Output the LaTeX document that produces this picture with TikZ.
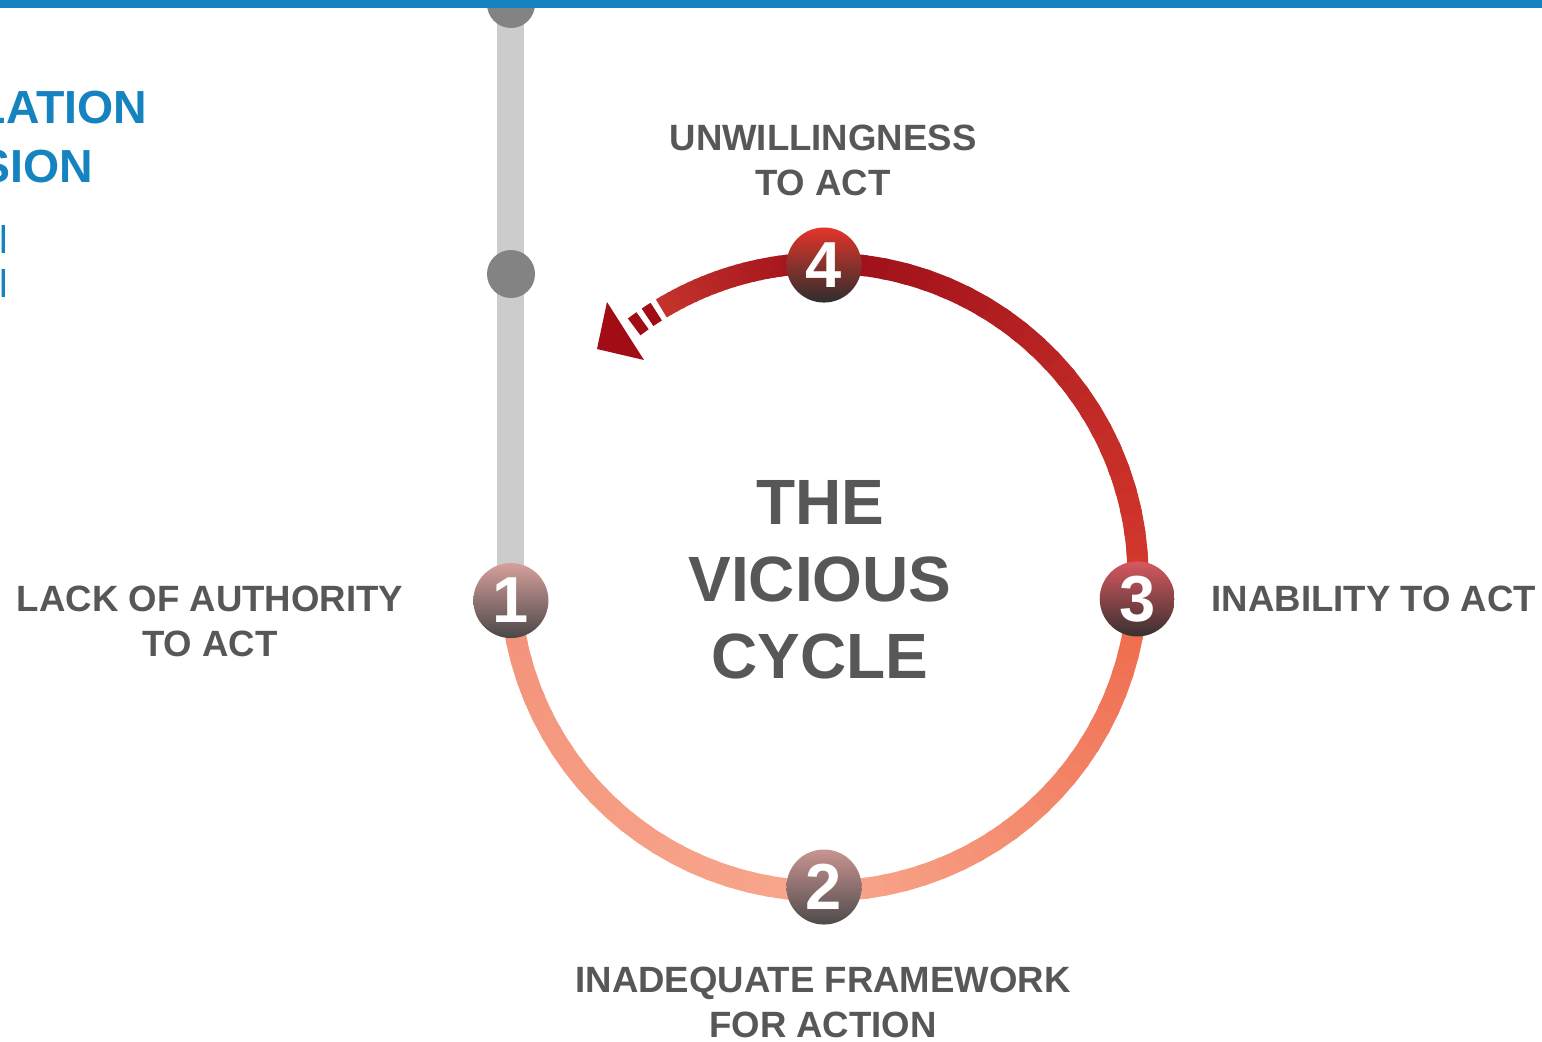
\documentclass[tikz,border=0pt]{standalone}
\usepackage{fontspec}
\setmainfont{Liberation Sans}
\usepackage{tikz}

\definecolor{topblue}{HTML}{1583BF}
\definecolor{txtgrey}{HTML}{575757}
\definecolor{bargrey}{HTML}{CCCCCC}
\definecolor{dotgrey}{HTML}{838383}
\definecolor{ringA}{HTML}{F3927A}
\definecolor{ringB}{HTML}{F8A78D}
\definecolor{ringC}{HTML}{EF6A4C}
\definecolor{ringD}{HTML}{D63A2E}
\definecolor{ringE}{HTML}{9E0F19}
\definecolor{ringF}{HTML}{C3322B}
\definecolor{arrowred}{HTML}{A20C15}

\begin{document}
\begin{tikzpicture}[x=0.01cm, y=-0.01cm,
		lbl/.style={text=txtgrey, font=\fontsize{10.4}{12.8}\selectfont\bfseries, align=center, inner sep=0pt},
		num/.style={circle, minimum size=0.75cm, inner sep=0pt, text=white, font=\fontsize{18.5}{18.5}\selectfont\bfseries},
		band/.style={line width=0.21cm},
		side/.style={text=topblue, inner sep=0pt, anchor=base east}]
		\useasboundingbox (0,0) rectangle (1542,1041);
		\clip (0,0) rectangle (1542,1041);
		\fill[white] (0,0) rectangle (1542,1041);
		\coordinate (c) at (824,577);

		\fill[bargrey] (497,0) rectangle (524,570);
		\fill[dotgrey] (511,4) circle (24);
		\fill[dotgrey] (511,274) circle (24);
		\fill[topblue] (0,0) rectangle (1542,8);

		\foreach \sa/\ea/\ca/\cb in {175.7/90/ringA/ringB, 90/4/ringB/ringC, 4/-90/ringD/ringE, -90/-121.2/ringE/ringF}{
			\foreach \i in {0,...,23}{
				\pgfmathtruncatemacro\pc{100-\i*100/23}
				\pgfmathsetmacro\u{\sa+(\ea-\sa)*\i/24}
				\pgfmathsetmacro\v{\sa+(\ea-\sa)*min(\i+1.3,24)/24}
				\draw[band, \ca!\pc!\cb] ([shift={(\u:314)}]c) arc[start angle=\u, end angle=\v, radius=314];
			}
		}
		\foreach \sa/\ea in {-122.3/-124.2, -125.3/-127.2}
			\draw[band, arrowred] ([shift={(\sa:314)}]c) arc[start angle=\sa, end angle=\ea, radius=314];
		\coordinate (tip) at (597,349);
		\coordinate (hl) at (607,302);
		\coordinate (hr) at (644,360);
		\fill[arrowred] (tip) -- (hl) -- (hr) -- cycle;

		\node[num, top color={rgb,255:red,214;green,160;blue,156}, bottom color={rgb,255:red,74;green,71;blue,71}] (n1) at ([shift={(175.7:314)}]c) {1};
		\node[num, top color={rgb,255:red,201;green,148;blue,145}, bottom color={rgb,255:red,78;green,75;blue,75}] (n2) at ([shift={(90:310)}]c) {2};
		\node[num, top color={rgb,255:red,214;green,88;blue,94}, bottom color={rgb,255:red,58;green,48;blue,48}] (n3) at ([shift={(4:314)}]c) {3};
		\node[num, top color={rgb,255:red,227;green,53;blue,42}, bottom color={rgb,255:red,46;green,46;blue,46}] (n4) at ([shift={(-90:312)}]c) {4};

		\node[lbl] (unwill) at (823,160) {UNWILLINGNESS\\TO ACT};
		\node[lbl] (lack) at (210,621) {LACK OF AUTHORITY\\TO ACT};
		\node[lbl, anchor=west] (inab) at (1211,599) {INABILITY TO ACT};
		\node[lbl] (inadeq) at (823,1002) {INADEQUATE FRAMEWORK\\FOR ACTION};
		\node[lbl, font=\fontsize{18.2}{21.9}\selectfont\bfseries] (vicious) at (820,580) {THE\\VICIOUS\\CYCLE};

		\node[side, font=\fontsize{13.2}{16.5}\selectfont\bfseries] (title1) at (148,123) {LATION};
		\node[side, font=\fontsize{13.2}{16.5}\selectfont\bfseries] (title2) at (94,182) {SION};
		\node[side, font=\fontsize{11}{12.5}\selectfont] (sub1) at (9,253) {al};
		\node[side, font=\fontsize{11}{12.5}\selectfont] (sub2) at (9,297) {al};
	\end{tikzpicture}
\end{document}
